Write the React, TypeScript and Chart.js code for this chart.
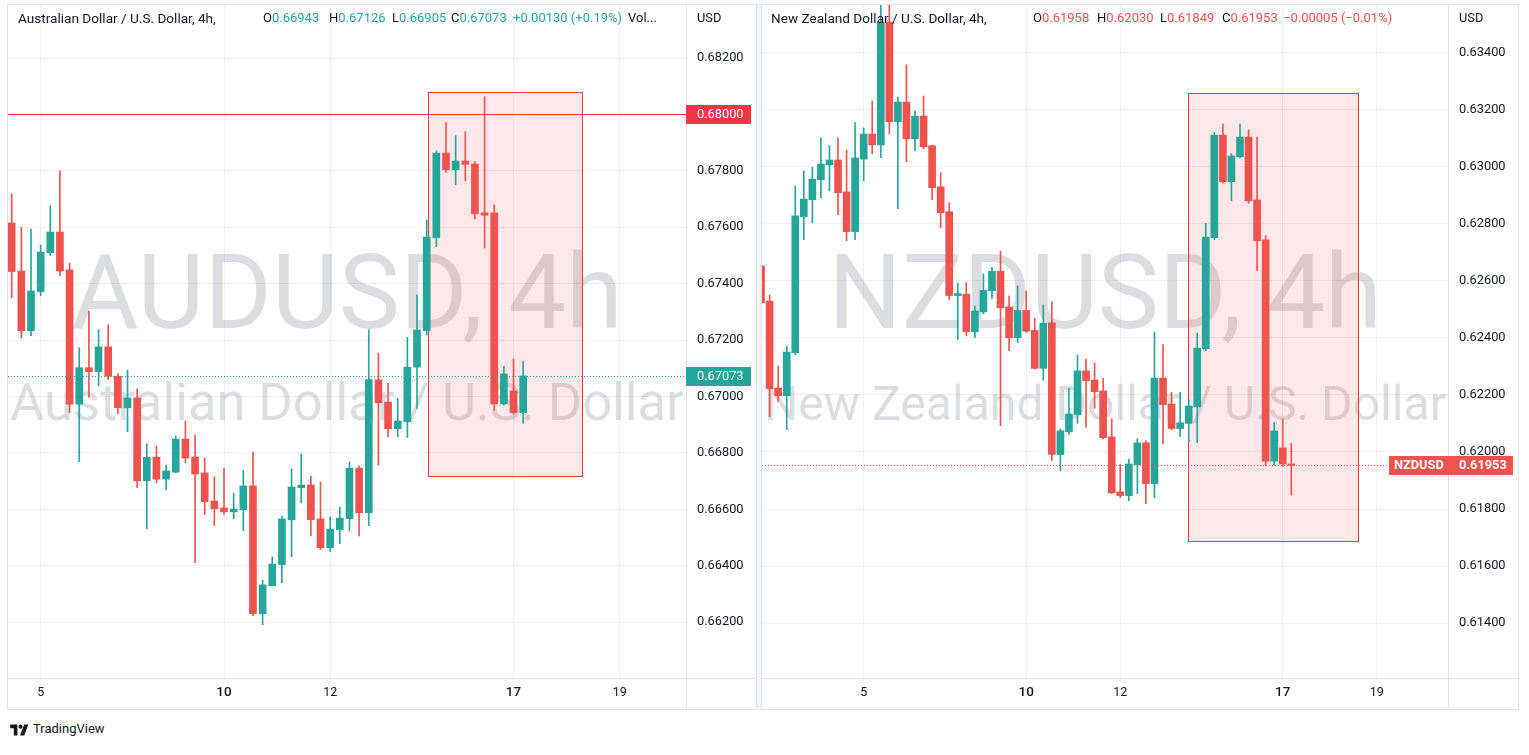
import React, { useEffect, useRef } from 'react';
import { Chart, registerables } from 'chart.js';

Chart.register(...registerables);

const UP = '#26a69a';
const DOWN = '#ef5350';
const LINE_RED = '#f23645';
const TEXT = '#131722';
const GRID = '#eef0f4';
const FRAME = '#e0e3eb';
const WATERMARK = 'rgba(120,123,134,0.26)';
const FONT = 'Roboto, "Noto Sans", sans-serif';

// ---------------- AUDUSD, 4h ----------------
const audOpen = [
  0.67615, 0.67445, 0.67233, 0.67372, 0.67510, 0.67583, 0.67449, 0.66973, 0.67102, 0.67088,
  0.67176, 0.67072, 0.66960, 0.66995, 0.66701, 0.66785, 0.66707, 0.66732, 0.66849, 0.66785,
  0.66729, 0.66629, 0.66605, 0.66591, 0.66599, 0.66683, 0.66230, 0.66329, 0.66404, 0.66563,
  0.66677, 0.66686, 0.66566, 0.66464, 0.66528, 0.66567, 0.66746, 0.66588, 0.67059, 0.66980,
  0.66886, 0.66911, 0.67104, 0.67233, 0.67563, 0.67863, 0.67804, 0.67835, 0.67824, 0.67651,
  0.67651, 0.66974, 0.67020, 0.66943,
];
const audHigh = [
  0.67718, 0.67599, 0.67594, 0.67537, 0.67676, 0.67800, 0.67473, 0.67173, 0.67303, 0.67237,
  0.67254, 0.67080, 0.67094, 0.67027, 0.66832, 0.66824, 0.66757, 0.66860, 0.66913, 0.66863,
  0.66782, 0.66715, 0.66746, 0.66658, 0.66739, 0.66803, 0.66349, 0.66431, 0.66576, 0.66743,
  0.66796, 0.66718, 0.66697, 0.66573, 0.66608, 0.66768, 0.66754, 0.67237, 0.67154, 0.67047,
  0.66994, 0.67210, 0.67360, 0.67626, 0.67871, 0.67971, 0.67925, 0.67939, 0.67833, 0.68063,
  0.67679, 0.67108, 0.67133, 0.67126,
];
const audLow = [
  0.67350, 0.67207, 0.67216, 0.67357, 0.67499, 0.67428, 0.66943, 0.66769, 0.66997, 0.67038,
  0.67060, 0.66939, 0.66875, 0.66677, 0.66531, 0.66694, 0.66669, 0.66730, 0.66765, 0.66411,
  0.66581, 0.66542, 0.66581, 0.66567, 0.66524, 0.66223, 0.66191, 0.66329, 0.66340, 0.66432,
  0.66623, 0.66506, 0.66457, 0.66450, 0.66478, 0.66524, 0.66506, 0.66542, 0.66757, 0.66857,
  0.66857, 0.66855, 0.66958, 0.67218, 0.67531, 0.67794, 0.67751, 0.67765, 0.67630, 0.67526,
  0.66952, 0.66970, 0.66938, 0.66905,
];
const audClose = [
  0.67443, 0.67233, 0.67374, 0.67512, 0.67583, 0.67445, 0.66973, 0.67102, 0.67088, 0.67176,
  0.67072, 0.66960, 0.66995, 0.66701, 0.66785, 0.66707, 0.66736, 0.66849, 0.66782, 0.66725,
  0.66627, 0.66602, 0.66591, 0.66601, 0.66683, 0.66230, 0.66332, 0.66406, 0.66566, 0.66679,
  0.66686, 0.66563, 0.66464, 0.66530, 0.66569, 0.66746, 0.66588, 0.67060, 0.66978, 0.66886,
  0.66913, 0.67104, 0.67236, 0.67565, 0.67863, 0.67804, 0.67835, 0.67823, 0.67648, 0.67643,
  0.66974, 0.67080, 0.66943, 0.67073,
];
const audTimeTickIndex = [3, 22, 33, 52, 63];
const audTimeTickLabels = ['5', '10', '12', '17', '19'];
const audPriceTicks = [0.662, 0.664, 0.666, 0.668, 0.67, 0.672, 0.674, 0.676, 0.678, 0.68, 0.682];
const audViewX = [-0.383, 69.87];
const audViewY = [0.66002, 0.68388];
const audLevel = [0.68];
const audZone = [43.1, 59.13, 0.68079, 0.66718];

// ---------------- NZDUSD, 4h ----------------
const nzdOpen = [
  0.62652, 0.62529, 0.62224, 0.62197, 0.62348, 0.62824, 0.62884, 0.62954, 0.63006, 0.63023,
  0.62911, 0.62772, 0.63026, 0.63114, 0.63076, 0.63506, 0.63157, 0.63226, 0.63097, 0.63177,
  0.63073, 0.62929, 0.62842, 0.62548, 0.62553, 0.62421, 0.62491, 0.62565, 0.62633, 0.62508,
  0.62400, 0.62496, 0.62426, 0.62293, 0.62452, 0.61991, 0.62071, 0.62131, 0.62284, 0.62252,
  0.62214, 0.62053, 0.61860, 0.61847, 0.61956, 0.62032, 0.61889, 0.62259, 0.62168, 0.62082,
  0.62100, 0.62159, 0.62362, 0.62751, 0.63110, 0.62947, 0.63034, 0.63103, 0.62883, 0.62743,
  0.61968, 0.62014, 0.61958,
];
const nzdHigh = [
  0.62665, 0.62550, 0.62301, 0.62371, 0.62932, 0.62984, 0.62998, 0.63101, 0.63073, 0.63101,
  0.63058, 0.63154, 0.63135, 0.63230, 0.63570, 0.63580, 0.63243, 0.63357, 0.63195, 0.63247,
  0.63075, 0.62978, 0.62873, 0.62591, 0.62594, 0.62511, 0.62624, 0.62647, 0.62704, 0.62546,
  0.62582, 0.62564, 0.62468, 0.62515, 0.62527, 0.62080, 0.62223, 0.62340, 0.62325, 0.62312,
  0.62258, 0.62116, 0.61956, 0.61975, 0.62046, 0.62039, 0.62420, 0.62376, 0.62209, 0.62209,
  0.62182, 0.62416, 0.62801, 0.63120, 0.63149, 0.63045, 0.63149, 0.63128, 0.63103, 0.62758,
  0.62103, 0.62116, 0.62030,
];
const nzdLow = [
  0.62515, 0.62124, 0.62176, 0.62078, 0.62340, 0.62744, 0.62803, 0.62891, 0.62915, 0.62831,
  0.62740, 0.62744, 0.62950, 0.63045, 0.63031, 0.63115, 0.62852, 0.63017, 0.63055, 0.63062,
  0.62884, 0.62786, 0.62534, 0.62395, 0.62407, 0.62400, 0.62484, 0.62537, 0.62092, 0.62355,
  0.62383, 0.62419, 0.62290, 0.62251, 0.61970, 0.61934, 0.62061, 0.62100, 0.62087, 0.62153,
  0.62046, 0.61854, 0.61840, 0.61829, 0.61854, 0.61819, 0.61840, 0.62029, 0.62078, 0.62054,
  0.62036, 0.62033, 0.62355, 0.62744, 0.62942, 0.62880, 0.63030, 0.62871, 0.62635, 0.61952,
  0.61954, 0.61950, 0.61849,
];
const nzdClose = [
  0.62523, 0.62222, 0.62197, 0.62350, 0.62827, 0.62886, 0.62956, 0.63009, 0.63023, 0.62908,
  0.62772, 0.63030, 0.63114, 0.63076, 0.63506, 0.63157, 0.63226, 0.63097, 0.63177, 0.63069,
  0.62926, 0.62838, 0.62548, 0.62555, 0.62421, 0.62494, 0.62566, 0.62633, 0.62505, 0.62400,
  0.62496, 0.62423, 0.62293, 0.62451, 0.61991, 0.62074, 0.62133, 0.62284, 0.62250, 0.62211,
  0.62050, 0.61857, 0.61847, 0.61958, 0.62032, 0.61889, 0.62259, 0.62166, 0.62082, 0.62102,
  0.62161, 0.62364, 0.62753, 0.63110, 0.62947, 0.63037, 0.63103, 0.62880, 0.62740, 0.61968,
  0.62074, 0.61958, 0.61953,
];
const nzdTimeTickIndex = [12, 31, 42, 61, 72];
const nzdTimeTickLabels = ['5', '10', '12', '17', '19'];
const nzdPriceTicks = [0.614, 0.616, 0.618, 0.62, 0.622, 0.624, 0.626, 0.628, 0.63, 0.632, 0.634];
const nzdViewX = [0.11, 80.32];
const nzdViewY = [0.61208, 0.63566];
const nzdLevel: number[] = [];
const nzdZone = [49.95, 69.83, 0.63257, 0.61688];

const majorTimeLabels = ['10', '17'];

type Panel = {
  open: number[];
  high: number[];
  low: number[];
  close: number[];
  viewX: number[];
  viewY: number[];
  timeTicks: number[];
  timeLabels: string[];
  priceTicks: number[];
  levels: number[];
  zone: number[];
  symbol: string;
  wmTitle: string;
  wmSub: string;
};

const audPanel: Panel = {
  open: audOpen, high: audHigh, low: audLow, close: audClose,
  viewX: audViewX, viewY: audViewY,
  timeTicks: audTimeTickIndex, timeLabels: audTimeTickLabels,
  priceTicks: audPriceTicks, levels: audLevel, zone: audZone,
  symbol: '', wmTitle: 'AUDUSD, 4h', wmSub: 'Australian Dollar / U.S. Dollar',
};

const nzdPanel: Panel = {
  open: nzdOpen, high: nzdHigh, low: nzdLow, close: nzdClose,
  viewX: nzdViewX, viewY: nzdViewY,
  timeTicks: nzdTimeTickIndex, timeLabels: nzdTimeTickLabels,
  priceTicks: nzdPriceTicks, levels: nzdLevel, zone: nzdZone,
  symbol: 'NZDUSD', wmTitle: 'NZDUSD, 4h', wmSub: 'New Zealand Dollar / U.S. Dollar',
};

function buildChart(canvas: HTMLCanvasElement, p: Panel) {
  const idx = p.open.map((_, i) => i);
  const colors = idx.map((i) => (p.close[i] >= p.open[i] ? UP : DOWN));
  const lastI = p.close.length - 1;
  const last = p.close[lastI];
  const lastColor = colors[lastI];

  const panelPlugin = {
    id: 'panelDecor',
    beforeDatasetsDraw(chart: any) {
      const { ctx, chartArea: a, scales } = chart;
      const x = scales.x;
      const y = scales.y;
      ctx.save();
      ctx.beginPath();
      ctx.rect(a.left, a.top, a.right - a.left, a.bottom - a.top);
      ctx.clip();
      // watermark
      const cx = (a.left + a.right) / 2;
      ctx.fillStyle = WATERMARK;
      ctx.textAlign = 'center';
      ctx.textBaseline = 'alphabetic';
      ctx.font = `103px ${FONT}`;
      ctx.fillText(p.wmTitle, cx, a.top + 323);
      let fs = 53;
      ctx.font = `${fs}px ${FONT}`;
      const w = ctx.measureText(p.wmSub).width;
      const avail = a.right - a.left - 4;
      if (w > avail) fs = (fs * avail) / w;
      ctx.font = `${fs}px ${FONT}`;
      ctx.fillText(p.wmSub, cx, a.top + 415);
      // zone rectangle
      const [i0, i1, p0, p1] = p.zone;
      const xl = Math.round(x.getPixelForValue(i0));
      const xr = Math.round(x.getPixelForValue(i1));
      const yt = Math.round(y.getPixelForValue(p0));
      const yb = Math.round(y.getPixelForValue(p1));
      ctx.fillStyle = 'rgba(242,54,69,0.12)';
      ctx.fillRect(xl, yt, xr - xl, yb - yt);
      ctx.strokeStyle = LINE_RED;
      ctx.lineWidth = 1;
      ctx.strokeRect(xl + 0.5, yt + 0.5, xr - xl, yb - yt);
      ctx.restore();
    },
    afterDatasetsDraw(chart: any) {
      const { ctx, chartArea: a, scales } = chart;
      const y = scales.y;
      ctx.save();
      ctx.beginPath();
      ctx.rect(a.left, a.top, a.right - a.left, a.bottom - a.top);
      ctx.clip();
      ctx.lineWidth = 1;
      p.levels.forEach((lv) => {
        const yy = Math.round(y.getPixelForValue(lv)) + 0.5;
        ctx.strokeStyle = LINE_RED;
        ctx.beginPath();
        ctx.moveTo(a.left, yy);
        ctx.lineTo(a.right, yy);
        ctx.stroke();
      });
      const yl = Math.round(y.getPixelForValue(last)) + 0.5;
      ctx.strokeStyle = lastColor;
      ctx.setLineDash([1, 2]);
      ctx.beginPath();
      ctx.moveTo(a.left, yl);
      ctx.lineTo(a.right, yl);
      ctx.stroke();
      ctx.restore();
    },
    afterDraw(chart: any) {
      const { ctx, chartArea: a, scales, width, height } = chart;
      const y = scales.y;
      ctx.save();
      // axis separators spanning the whole panel
      ctx.strokeStyle = FRAME;
      ctx.lineWidth = 1;
      ctx.beginPath();
      ctx.moveTo(Math.round(a.right) + 0.5, 0);
      ctx.lineTo(Math.round(a.right) + 0.5, height);
      ctx.moveTo(0, Math.round(a.bottom) + 0.5);
      ctx.lineTo(width, Math.round(a.bottom) + 0.5);
      ctx.stroke();
      ctx.textBaseline = 'middle';
      ctx.textAlign = 'left';
      const box = (value: number, color: string, withSymbol: boolean) => {
        const yc = Math.round(y.getPixelForValue(value));
        const x0 = withSymbol ? a.right - 59 : a.right;
        const x1 = a.right + 65;
        ctx.fillStyle = color;
        ctx.fillRect(x0, yc - 9, x1 - x0, 19);
        ctx.fillStyle = '#ffffff';
        ctx.font = `${withSymbol ? 'bold ' : ''}12.8px ${FONT}`;
        if (withSymbol) ctx.fillText(p.symbol, a.right - 54, yc + 1);
        ctx.fillText(value.toFixed(5), a.right + 11, yc + 1);
      };
      p.levels.forEach((lv) => box(lv, LINE_RED, false));
      box(last, lastColor, p.symbol !== '');
      ctx.restore();
    },
  };

  return new Chart(canvas, {
    type: 'bar',
    data: {
      datasets: [
        {
          data: idx.map((i) => ({ x: i, y: [p.low[i], p.high[i]] })) as any,
          backgroundColor: colors,
          borderWidth: 0,
          maxBarThickness: 1,
          categoryPercentage: 1,
          barPercentage: 1,
          grouped: false,
          order: 2,
        },
        {
          data: idx.map((i) => ({ x: i, y: [p.open[i], p.close[i]] })) as any,
          backgroundColor: colors,
          borderWidth: 0,
          maxBarThickness: 7,
          minBarLength: 1,
          categoryPercentage: 1,
          barPercentage: 1,
          grouped: false,
          order: 1,
        },
      ],
    },
    options: {
      animation: false,
      responsive: false,
      devicePixelRatio: 1,
      events: [],
      layout: { padding: 0 },
      plugins: { legend: { display: false }, tooltip: { enabled: false } },
      scales: {
        x: {
          type: 'linear',
          min: p.viewX[0],
          max: p.viewX[1],
          offset: false,
          grid: { color: GRID, drawTicks: false, tickLength: 0, offset: false },
          border: { display: false },
          afterBuildTicks: (s: any) => {
            s.ticks = p.timeTicks.map((v) => ({ value: v }));
          },
          afterFit: (s: any) => {
            s.height = 30;
            s.paddingLeft = 0;
            s.paddingRight = 0;
            s.paddingTop = 0;
            s.paddingBottom = 0;
          },
          ticks: {
            autoSkip: false,
            maxRotation: 0,
            padding: 7,
            color: TEXT,
            callback: (_v: any, i: number) => p.timeLabels[i],
            font: (c: any) => {
              const major = majorTimeLabels.includes(p.timeLabels[c.index]);
              return { family: FONT, size: major ? 13.5 : 12.5, weight: major ? '500' : 'normal' };
            },
          },
        } as any,
        y: {
          type: 'linear',
          position: 'right',
          min: p.viewY[0],
          max: p.viewY[1],
          beginAtZero: false,
          grid: { color: GRID, drawTicks: false, tickLength: 0 },
          border: { display: false },
          afterBuildTicks: (s: any) => {
            s.ticks = p.priceTicks.map((v) => ({ value: v }));
          },
          afterFit: (s: any) => {
            s.width = 70;
            s.paddingLeft = 0;
            s.paddingRight = 0;
            s.paddingTop = 0;
            s.paddingBottom = 0;
          },
          ticks: {
            padding: 11,
            color: TEXT,
            font: { family: FONT, size: 12.8 },
            callback: (v: any) => Number(v).toFixed(5),
          },
        } as any,
      },
    },
    plugins: [panelPlugin as any],
  });
}

function CandleCanvas({ panel, width, height }: { panel: Panel; width: number; height: number }) {
  const ref = useRef<HTMLCanvasElement>(null);
  useEffect(() => {
    if (!ref.current) return;
    const chart = buildChart(ref.current, panel);
    return () => chart.destroy();
  }, [panel]);
  return <canvas ref={ref} width={width} height={height} style={{ display: 'block', width, height }} />;
}

const abs = (left: number, top: number, extra: React.CSSProperties = {}): React.CSSProperties => ({
  position: 'absolute',
  left,
  top,
  whiteSpace: 'nowrap',
  ...extra,
});

const LEGEND_SIZE = 13;
const TITLE_SIZE = 13.6;

function Ohlc({ label, value, color, left }: { label: string; value: string; color: string; left: number }) {
  return (
    <span style={abs(left, 10, { fontSize: LEGEND_SIZE, lineHeight: '16px' })}>
      {label}
      <span style={{ color }}>{value}</span>
    </span>
  );
}

export default function App() {
  return (
    <div
      style={{
        position: 'fixed',
        left: 0,
        top: 0,
        width: 1529,
        height: 755,
        background: '#ffffff',
        fontFamily: FONT,
        color: TEXT,
        overflow: 'hidden',
      }}
    >
      {/* frames */}
      <div style={abs(7, 4, { width: 750, height: 706, border: `1px solid ${FRAME}`, boxSizing: 'border-box' })} />
      <div style={abs(757, 4, { width: 4, height: 706, background: '#f0f3fa' })} />
      <div style={abs(761, 4, { width: 758, height: 706, border: `1px solid ${FRAME}`, boxSizing: 'border-box' })} />

      <div style={abs(8, 5)}>
        <CandleCanvas panel={audPanel} width={748} height={703} />
      </div>
      <div style={abs(762, 5)}>
        <CandleCanvas panel={nzdPanel} width={756} height={703} />
      </div>

      {/* left legend */}
      <span style={abs(18, 10, { fontSize: TITLE_SIZE, lineHeight: '16px' })}>Australian Dollar / U.S. Dollar, 4h,</span>
      <Ohlc label="O" value="0.66943" color={UP} left={263} />
      <Ohlc label="H" value="0.67126" color={UP} left={329} />
      <Ohlc label="L" value="0.66905" color={UP} left={392} />
      <Ohlc label="C" value="0.67073" color={UP} left={451} />
      <span style={abs(513, 10, { fontSize: LEGEND_SIZE, lineHeight: '16px', color: UP })}>+0.00130 (+0.19%)</span>
      <span style={abs(628, 10, { fontSize: LEGEND_SIZE, lineHeight: '16px' })}>Vol...</span>
      <span style={abs(697, 10, { fontSize: 12.8, lineHeight: '16px' })}>USD</span>

      {/* right legend */}
      <span style={abs(771, 10, { fontSize: TITLE_SIZE, lineHeight: '16px' })}>New Zealand Dollar / U.S. Dollar, 4h,</span>
      <Ohlc label="O" value="0.61958" color={DOWN} left={1033} />
      <Ohlc label="H" value="0.62030" color={DOWN} left={1097} />
      <Ohlc label="L" value="0.61849" color={DOWN} left={1160} />
      <Ohlc label="C" value="0.61953" color={DOWN} left={1222} />
      <span style={abs(1283, 10, { fontSize: LEGEND_SIZE, lineHeight: '16px', color: DOWN })}>−0.00005 (−0.01%)</span>
      <span style={abs(1459, 10, { fontSize: 12.8, lineHeight: '16px' })}>USD</span>

      {/* footer */}
      <svg style={abs(10, 723)} width={19} height={13} viewBox="0 0 36 25">
        <path d="M14 24H7V10H0V3h14v21z" fill={TEXT} />
        <circle cx="20" cy="7" r="4" fill={TEXT} />
        <path d="M27 24h-8l8-21h8l-8 21z" fill={TEXT} />
      </svg>
      <span style={abs(33, 721, { fontSize: 13, lineHeight: '16px' })}>TradingView</span>
    </div>
  );
}
